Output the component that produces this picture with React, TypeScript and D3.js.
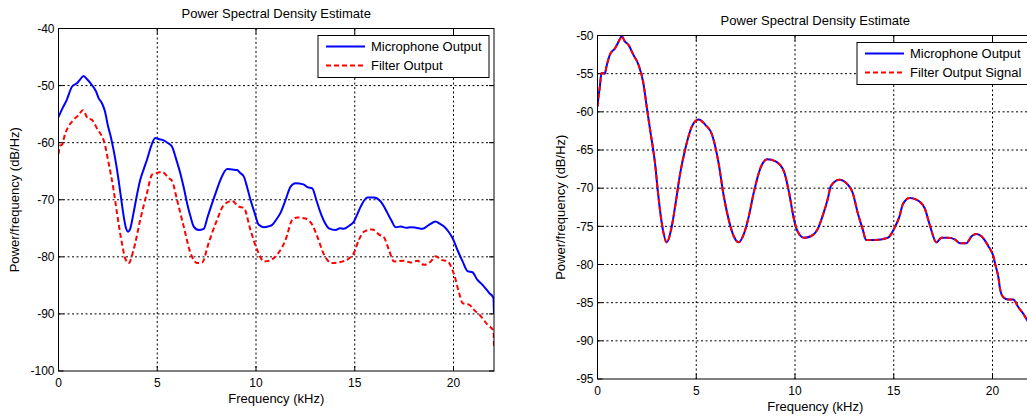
import React from "react";
import * as d3 from "d3";

// ---------- data ----------
const xTicks = [0, 5, 10, 15, 20];
const leftYTicks = [-100, -90, -80, -70, -60, -50, -40];
const rightYTicks = [-95, -90, -85, -80, -75, -70, -65, -60, -55, -50];
const titleText = "Power Spectral Density Estimate";
const xLabelText = "Frequency (kHz)";
const yLabelText = "Power/frequency (dB/Hz)";
const leftLegend = ["Microphone Output", "Filter Output"];
const rightLegend = ["Microphone Output", "Filter Output Signal"];

const leftMicFreq = [0, 0.2, 0.42, 0.68, 0.93, 1.1, 1.27, 1.45, 1.69, 1.9, 2.03, 2.2, 2.35, 2.5, 2.65, 2.79, 2.92, 3.04, 3.18, 3.3, 3.42, 3.52, 3.62, 3.8, 3.97, 4.14, 4.3, 4.48, 4.7, 4.9, 5.1, 5.32, 5.55, 5.75, 5.95, 6.17, 6.35, 6.51, 6.68, 6.85, 7.1, 7.35, 7.55, 7.78, 8.0, 8.2, 8.54, 8.8, 9.05, 9.2, 9.38, 9.55, 9.72, 9.93, 10.14, 10.4, 10.6, 10.82, 11.0, 11.24, 11.5, 11.75, 12.0, 12.4, 12.6, 12.85, 13.05, 13.27, 13.48, 13.69, 14.03, 14.25, 14.45, 14.7, 14.96, 15.12, 15.3, 15.64, 15.97, 16.31, 16.48, 16.65, 16.85, 17.07, 17.33, 17.6, 17.84, 18.1, 18.43, 18.76, 19.1, 19.3, 19.52, 19.75, 19.95, 20.2, 20.46, 20.71, 20.96, 21.2, 21.47, 21.8, 22.02, 22.05];
const leftMicDb = [-55.5, -54, -52.5, -50.2, -49.6, -48.9, -48.3, -48.9, -49.9, -51, -52.2, -53.1, -54.5, -57, -59, -61.3, -63.8, -66.5, -70, -72.9, -75, -75.6, -75.2, -72.3, -69.2, -66.5, -64.8, -63, -60.5, -59.2, -59.4, -59.6, -60.1, -60.7, -62.8, -65.4, -68, -70.6, -72.9, -74.7, -75.3, -75.1, -73, -70.6, -68.4, -66.5, -64.6, -64.7, -64.8, -65.3, -65.9, -67.8, -70, -72.3, -74.4, -74.8, -74.7, -74.4, -73.6, -72.3, -70, -67.7, -67.1, -67.3, -67.8, -68, -70, -72.3, -74, -75, -75.3, -75, -75.1, -74.6, -73.8, -72.6, -71.2, -69.6, -69.6, -70.3, -71.2, -72.3, -73.6, -74.8, -74.7, -74.9, -74.8, -74.9, -75.1, -74.4, -73.8, -74.2, -74.7, -75.6, -76.7, -78.8, -80.8, -82.5, -82.7, -84, -84.9, -86.3, -87.2, -90];

const leftFiltFreq = [0, 0.08, 0.17, 0.34, 0.5, 0.76, 1.01, 1.24, 1.47, 1.69, 1.95, 2.2, 2.28, 2.54, 2.79, 2.96, 3.21, 3.4, 3.55, 3.8, 4.14, 4.48, 4.74, 5.0, 5.24, 5.58, 5.75, 6.0, 6.34, 6.68, 7.02, 7.27, 7.6, 8.03, 8.37, 8.79, 9.13, 9.38, 9.72, 10.06, 10.4, 10.73, 11.07, 11.5, 11.84, 12.09, 12.5, 12.85, 13.1, 13.44, 13.86, 14.28, 14.7, 14.96, 15.21, 15.47, 15.89, 16.23, 16.48, 16.73, 16.99, 17.5, 17.84, 18.17, 18.51, 18.85, 19.1, 19.36, 19.7, 20.03, 20.28, 20.46, 20.8, 21.04, 21.38, 21.72, 22.03, 22.05];
const leftFiltDb = [-62, -60.5, -60.4, -58.4, -57.2, -56, -55.2, -54.3, -55.7, -56, -57.5, -58.9, -59.5, -63.6, -68.3, -72.3, -77.6, -80.5, -81.1, -78.8, -73.5, -68.8, -65.6, -65.3, -65.1, -66.2, -66.7, -70, -74.7, -79.3, -81.1, -81, -77.6, -73.5, -70.9, -70.2, -71.2, -71.4, -75.3, -78.8, -80.8, -80.6, -79.6, -77, -73.5, -73.1, -73.3, -74.4, -76.4, -79.6, -81.1, -80.9, -80.3, -79.3, -77, -75.6, -75.2, -76.1, -76.6, -78.8, -80.8, -80.7, -81, -80.7, -81.4, -80.8, -79.9, -80.5, -80.8, -83.1, -86.3, -88.1, -88.4, -89.3, -90.4, -91.9, -93, -96];

const rightMicFreq = [0, 0.05, 0.12, 0.2, 0.37, 0.46, 0.63, 0.88, 1.13, 1.22, 1.39, 1.56, 1.81, 2.07, 2.32, 2.49, 2.66, 2.91, 3.08, 3.25, 3.51, 3.73, 3.93, 4.19, 4.44, 4.61, 4.78, 5.12, 5.46, 5.8, 6.13, 6.39, 6.64, 6.9, 7.15, 7.41, 7.66, 7.91, 8.26, 8.6, 9.02, 9.44, 9.7, 9.95, 10.12, 10.46, 10.8, 11.14, 11.39, 11.65, 11.82, 12.24, 12.66, 12.92, 13.17, 13.43, 13.6, 14.02, 14.7, 15.04, 15.29, 15.46, 15.8, 16.14, 16.56, 16.82, 17.16, 17.41, 17.75, 18.09, 18.34, 18.68, 18.94, 19.19, 19.44, 19.79, 20.04, 20.16, 20.3, 20.38, 20.55, 20.8, 21.05, 21.31, 21.57, 21.82, 22.05];
const rightMicDb = [-59.3, -58, -56.7, -54.9, -55, -54, -52.5, -51.7, -50.5, -50.1, -50.8, -51.2, -52.5, -53.8, -56.2, -59.3, -62.3, -66.7, -71, -74.5, -77.1, -75.4, -72.4, -68, -64.9, -63.2, -61.9, -61, -61.7, -63, -66.7, -71, -74.1, -76.3, -77.1, -76, -73.7, -70.6, -67.3, -66.2, -66.5, -67.8, -70.6, -74.1, -75.6, -76.5, -76.3, -75.4, -73.7, -71.5, -69.7, -68.9, -69.5, -70.6, -73.2, -75.4, -76.8, -76.8, -76.5, -75.2, -73.7, -72.1, -71.3, -71.5, -72.6, -74.8, -77.1, -76.5, -76.5, -76.7, -77.2, -77.2, -76.3, -76, -76.3, -77.6, -78.9, -80.2, -81.7, -83.2, -84.3, -84.6, -84.6, -85.6, -86.5, -87.6, -88.6];

const rightFiltFreq = [0, 0.05, 0.12, 0.2, 0.37, 0.46, 0.63, 0.88, 1.13, 1.22, 1.39, 1.56, 1.81, 2.07, 2.32, 2.49, 2.66, 2.91, 3.08, 3.25, 3.51, 3.73, 3.93, 4.19, 4.44, 4.61, 4.78, 5.12, 5.46, 5.8, 6.13, 6.39, 6.64, 6.9, 7.15, 7.41, 7.66, 7.91, 8.26, 8.6, 9.02, 9.44, 9.7, 9.95, 10.12, 10.46, 10.8, 11.14, 11.39, 11.65, 11.82, 12.24, 12.66, 12.92, 13.17, 13.43, 13.6, 14.02, 14.7, 15.04, 15.29, 15.46, 15.8, 16.14, 16.56, 16.82, 17.16, 17.41, 17.75, 18.09, 18.34, 18.68, 18.94, 19.19, 19.44, 19.79, 20.04, 20.16, 20.3, 20.38, 20.55, 20.8, 21.05, 21.31, 21.57, 21.82, 22.05];
const rightFiltDb = [-59.3, -58, -56.7, -54.9, -55, -54, -52.5, -51.7, -50.5, -50.1, -50.8, -51.2, -52.5, -53.8, -56.2, -59.3, -62.3, -66.7, -71, -74.5, -77.1, -75.4, -72.4, -68, -64.9, -63.2, -61.9, -61, -61.7, -63, -66.7, -71, -74.1, -76.3, -77.1, -76, -73.7, -70.6, -67.3, -66.2, -66.5, -67.8, -70.6, -74.1, -75.6, -76.5, -76.3, -75.4, -73.7, -71.5, -69.7, -68.9, -69.5, -70.6, -73.2, -75.4, -76.8, -76.8, -76.5, -75.2, -73.7, -72.1, -71.3, -71.5, -72.6, -74.8, -77.1, -76.5, -76.5, -76.7, -77.2, -77.2, -76.3, -76, -76.3, -77.6, -78.9, -80.2, -81.7, -83.2, -84.3, -84.6, -84.6, -85.6, -86.5, -87.6, -88.6];

const X_MAX = 22.05;
const FONT = "'Liberation Sans', Arial, Helvetica, sans-serif";

type PanelProps = {
  id: string;
  left: number;
  top: number;
  right: number;
  bottom: number;
  yDomain: [number, number];
  yTicks: number[];
  micFreq: number[];
  micDb: number[];
  filtFreq: number[];
  filtDb: number[];
  legend: string[];
  legendWidth: number;
  yLabelOffset: number;
};

function Panel(p: PanelProps) {
  const x = d3.scaleLinear().domain([0, X_MAX]).range([p.left, p.right]);
  const y = d3.scaleLinear().domain(p.yDomain).range([p.bottom, p.top]);
  const line = d3
    .line<[number, number]>()
    .x((d) => x(d[0]))
    .y((d) => y(d[1]))
    .curve(d3.curveMonotoneX);
  const mic = line(p.micFreq.map((f, i) => [f, p.micDb[i]] as [number, number])) || "";
  const filt = line(p.filtFreq.map((f, i) => [f, p.filtDb[i]] as [number, number])) || "";
  const cx = (p.left + p.right) / 2;
  const cy = (p.top + p.bottom) / 2;
  const tl = 5;
  const lgX = p.right - 5 - p.legendWidth;
  const lgY = p.top + 7;
  return (
    <g fontFamily={FONT} fill="#000">
      <defs>
        <clipPath id={p.id}>
          <rect x={p.left} y={p.top} width={p.right - p.left} height={p.bottom - p.top} />
        </clipPath>
      </defs>
      <rect x={p.left} y={p.top} width={p.right - p.left} height={p.bottom - p.top} fill="#fff" />
      {/* grid */}
      {xTicks.slice(1).map((t) => (
        <line key={"gx" + t} x1={x(t)} x2={x(t)} y1={p.top} y2={p.bottom} stroke="#000" strokeWidth={1} strokeDasharray="2,2.5" />
      ))}
      {p.yTicks.slice(1, -1).map((t) => (
        <line key={"gy" + t} x1={p.left} x2={p.right} y1={y(t)} y2={y(t)} stroke="#000" strokeWidth={1} strokeDasharray="2,2.5" />
      ))}
      {/* ticks */}
      {xTicks.map((t) => (
        <g key={"tx" + t}>
          <line x1={x(t)} x2={x(t)} y1={p.bottom} y2={p.bottom - tl} stroke="#000" />
          <line x1={x(t)} x2={x(t)} y1={p.top} y2={p.top + tl} stroke="#000" />
          <text x={x(t)} y={p.bottom + 16} textAnchor="middle" fontSize={12}>
            {t}
          </text>
        </g>
      ))}
      {p.yTicks.map((t) => (
        <g key={"ty" + t}>
          <line x1={p.left} x2={p.left + tl} y1={y(t)} y2={y(t)} stroke="#000" />
          <line x1={p.right} x2={p.right - tl} y1={y(t)} y2={y(t)} stroke="#000" />
          <text x={p.left - 4} y={y(t)} dy="0.36em" textAnchor="end" fontSize={12}>
            {t}
          </text>
        </g>
      ))}
      {/* series */}
      <g clipPath={`url(#${p.id})`}>
        <path d={mic} fill="none" stroke="#0000ff" strokeWidth={2} />
        <path d={filt} fill="none" stroke="#ff0000" strokeWidth={2} strokeDasharray="5,3" />
      </g>
      {/* frame */}
      <rect x={p.left} y={p.top} width={p.right - p.left} height={p.bottom - p.top} fill="none" stroke="#000" strokeWidth={1} />
      {/* legend */}
      <rect x={lgX} y={lgY} width={p.legendWidth} height={42} fill="#fff" stroke="#000" strokeWidth={1} />
      <line x1={lgX + 8} x2={lgX + 47} y1={lgY + 11} y2={lgY + 11} stroke="#0000ff" strokeWidth={2} />
      <text x={lgX + 53} y={lgY + 11} dy="0.36em" fontSize={13}>
        {p.legend[0]}
      </text>
      <line x1={lgX + 8} x2={lgX + 47} y1={lgY + 30} y2={lgY + 30} stroke="#ff0000" strokeWidth={2} strokeDasharray="5,3" />
      <text x={lgX + 53} y={lgY + 30} dy="0.36em" fontSize={13}>
        {p.legend[1]}
      </text>
      {/* labels */}
      <text x={cx} y={p.top - 11} textAnchor="middle" fontSize={13}>
        {titleText}
      </text>
      <text x={cx} y={p.bottom + 32} textAnchor="middle" fontSize={13}>
        {xLabelText}
      </text>
      <text transform={`translate(${p.left - p.yLabelOffset},${cy}) rotate(-90)`} textAnchor="middle" dy="0.36em" fontSize={13}>
        {yLabelText}
      </text>
    </g>
  );
}

export default function App() {
  return (
    <svg
      width={1027}
      height={417}
      style={{ position: "absolute", left: 0, top: 0, background: "#fff" }}
    >
      <rect x={0} y={0} width={1027} height={417} fill="#fff" />
      <Panel
        id="clipL"
        left={58.5}
        top={28.5}
        right={494}
        bottom={371}
        yDomain={[-100, -40]}
        yTicks={leftYTicks}
        micFreq={leftMicFreq}
        micDb={leftMicDb}
        filtFreq={leftFiltFreq}
        filtDb={leftFiltDb}
        legend={leftLegend}
        legendWidth={171}
        yLabelOffset={44.5}
      />
      <Panel
        id="clipR"
        left={597.5}
        top={35.5}
        right={1033}
        bottom={379}
        yDomain={[-95, -50]}
        yTicks={rightYTicks}
        micFreq={rightMicFreq}
        micDb={rightMicDb}
        filtFreq={rightFiltFreq}
        filtDb={rightFiltDb}
        legend={rightLegend}
        legendWidth={171}
        yLabelOffset={37.5}
      />
    </svg>
  );
}
